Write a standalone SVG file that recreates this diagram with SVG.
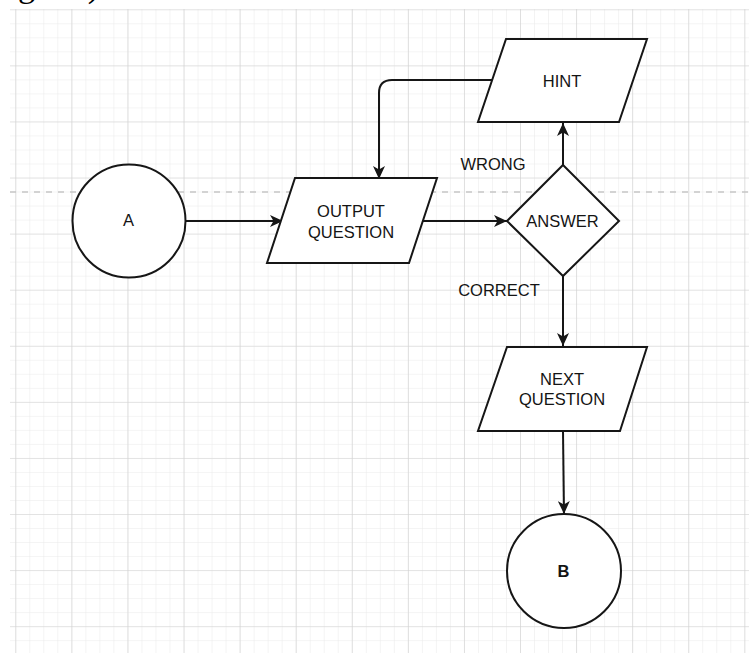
<svg xmlns="http://www.w3.org/2000/svg" width="749" height="653" viewBox="0 0 749 653">
  <style>
    .shape { fill: #ffffff; stroke: #161616; stroke-width: 2; }
    .edge { fill: none; stroke: #161616; stroke-width: 2; }
    .lbl { font-family: "Liberation Sans", Arial, sans-serif; font-size: 16.5px; fill: #141414; text-anchor: middle; }
    .head { font-family: "Liberation Serif", "Times New Roman", serif; font-size: 34px; fill: #000000; }
  </style>
  <defs>
    <pattern id="minor" x="15.3" y="9.3" width="14.02" height="14.02" patternUnits="userSpaceOnUse">
      <path d="M0,0 H14.02 M0,0 V14.02" stroke="#e9e9e9" stroke-width="1" fill="none"/>
    </pattern>
    <pattern id="major" x="15.3" y="9.3" width="56.08" height="56.08" patternUnits="userSpaceOnUse">
      <path d="M0,0 H56.08 M0,0 V56.08" stroke="#d2d2d2" stroke-width="1.2" fill="none"/>
    </pattern>
    <marker id="arrow" viewBox="0 0 14 12" markerWidth="14" markerHeight="12" markerUnits="userSpaceOnUse" refX="13" refY="6" orient="auto">
      <path d="M0,0 L13,6 L0,12 L3.5,6 Z" fill="#161616"/>
    </marker>
  </defs>

  <!-- page -->
  <rect width="749" height="653" fill="#ffffff"/>
  <text class="head" x="18" y="-3">gram)</text>

  <!-- grid paper -->
  <rect x="10" y="9" width="739" height="644" fill="url(#minor)"/>
  <rect x="10" y="9" width="739" height="644" fill="url(#major)"/>

  <!-- page break guide -->
  <line x1="10" y1="192" x2="749" y2="192" stroke="#c6c6c6" stroke-width="1.5" stroke-dasharray="6 6"/>

  <!-- connectors -->
  <g id="connectors">
    <path class="edge" d="M186,221 H283" marker-end="url(#arrow)"/>
    <path class="edge" d="M423,221 H507" marker-end="url(#arrow)"/>
    <path class="edge" d="M563,165 V123" marker-end="url(#arrow)"/>
    <path class="edge" d="M492,80 H392 Q379,80 379,93 V179" marker-end="url(#arrow)"/>
    <path class="edge" d="M563,276 V346" marker-end="url(#arrow)"/>
    <path class="edge" d="M563,431 L564,514" marker-end="url(#arrow)"/>
    <text class="lbl" x="493" y="170">WRONG</text>
    <text class="lbl" x="499" y="296">CORRECT</text>
  </g>

  <g id="node-a">
    <circle class="shape" cx="129" cy="221" r="56.5"/>
    <text class="lbl" x="128.5" y="226">A</text>
  </g>

  <g id="node-output-question">
    <polygon class="shape" points="295,178 437,178 409,263 267,263"/>
    <text class="lbl" x="351" y="216.5">OUTPUT</text>
    <text class="lbl" x="351" y="237.5">QUESTION</text>
  </g>

  <g id="node-answer">
    <polygon class="shape" points="563,165 619,221 563,276 507,221"/>
    <text class="lbl" x="562.5" y="226.5">ANSWER</text>
  </g>

  <g id="node-hint">
    <polygon class="shape" points="506,39 647,39 619,122 478,122"/>
    <text class="lbl" x="562" y="86.5">HINT</text>
  </g>

  <g id="node-next-question">
    <polygon class="shape" points="507,347 647,347 620,431 478,431"/>
    <text class="lbl" x="562" y="384.5">NEXT</text>
    <text class="lbl" x="562" y="405">QUESTION</text>
  </g>

  <g id="node-b">
    <circle class="shape" cx="564" cy="571" r="57"/>
    <text class="lbl" x="563.5" y="577" font-weight="bold">B</text>
  </g>
</svg>
